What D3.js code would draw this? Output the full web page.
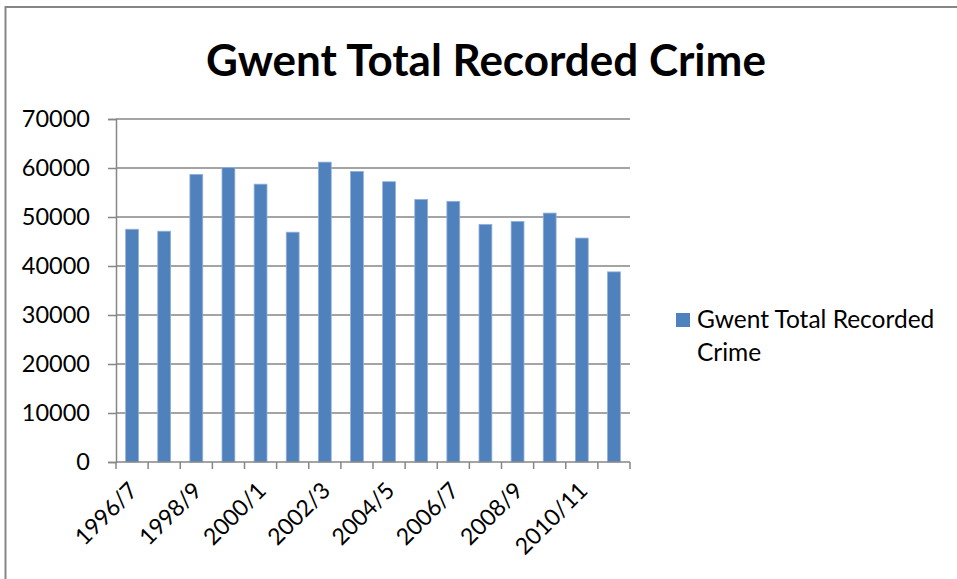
<!DOCTYPE html>
<html>
<head>
<meta charset="utf-8">
<script src="https://cdn.jsdelivr.net/npm/d3@7"></script>
<style>
  html, body { margin: 0; padding: 0; background: #fff; }
  svg { display: block; font-family: Lato, "Open Sans", sans-serif; }
</style>
</head>
<body>
<svg id="chart" width="957" height="579"></svg>
<script>
const categories = ["1996/7","1997/8","1998/9","1999/0","2000/1","2001/2","2002/3","2003/4",
                    "2004/5","2005/6","2006/7","2007/8","2008/9","2009/10","2010/11","2011/12"];
const values = [47500, 47100, 58700, 60100, 56700, 46900, 61200, 59300,
                57200, 53600, 53200, 48500, 49100, 50800, 45700, 38800];
const yTicks = [0, 10000, 20000, 30000, 40000, 50000, 60000, 70000];
const shownLabels = ["1996/7","1998/9","2000/1","2002/3","2004/5","2006/7","2008/9","2010/11"];
const seriesName = "Gwent Total Recorded Crime";
const chartTitle = "Gwent Total Recorded Crime";

(function () {
const svg = d3.select("#chart");
const grey = "#868686";
const barColor = "#4f81bd";

svg.append("rect").attr("x", 0).attr("y", 0).attr("width", 957).attr("height", 579).attr("fill", "#fff");
// chart border
svg.append("rect").attr("x", 5.5).attr("y", 7).attr("width", 1200).attr("height", 1200)
  .attr("fill", "none").attr("stroke", grey).attr("stroke-width", 2);

const pLeft = 116, pRight = 630, pTop = 119, pBottom = 462;
const x = d3.scaleBand().domain(categories).range([pLeft, pRight]).paddingInner(0.6).paddingOuter(0.3);
const y = d3.scaleLinear().domain([0, 70000]).range([pBottom, pTop]);

// title
svg.append("text").attr("x", 486).attr("y", 76).attr("text-anchor", "middle")
  .attr("font-size", 44).attr("font-weight", "bold").attr("fill", "#000").text(chartTitle);

// gridlines
svg.append("g").selectAll("line").data(yTicks.filter(d => d > 0)).join("line")
  .attr("x1", pLeft).attr("x2", pRight).attr("y1", d => y(d)).attr("y2", d => y(d))
  .attr("stroke", grey).attr("stroke-width", 1.5);

// y axis
const yAxis = svg.append("g").attr("transform", `translate(${pLeft},0)`)
  .call(d3.axisLeft(y).tickValues(yTicks).tickSize(8).tickPadding(18).tickFormat(d3.format("d")));
yAxis.select(".domain").attr("stroke", grey).attr("stroke-width", 1.5);
yAxis.selectAll(".tick line").attr("stroke", grey).attr("stroke-width", 1.5);
yAxis.selectAll(".tick text").attr("font-size", 23.5).attr("font-family", "Lato, sans-serif").attr("fill", "#000");

// bars
svg.append("g").selectAll("rect").data(values).join("rect")
  .attr("x", (d, i) => x(categories[i])).attr("width", x.bandwidth())
  .attr("y", d => y(d)).attr("height", d => pBottom - y(d))
  .attr("fill", barColor).attr("stroke", "#93b1d8").attr("stroke-width", 0.8);

// x axis line and ticks at band boundaries
const step = x.step();
const boundaries = d3.range(categories.length + 1).map(i => pLeft + i * step);
const xg = svg.append("g");
xg.append("line").attr("x1", pLeft).attr("x2", pRight).attr("y1", pBottom).attr("y2", pBottom)
  .attr("stroke", grey).attr("stroke-width", 1.5);
xg.selectAll("line.tk").data(boundaries).join("line").attr("class", "tk")
  .attr("x1", d => d).attr("x2", d => d).attr("y1", pBottom).attr("y2", pBottom + 7)
  .attr("stroke", grey).attr("stroke-width", 1.5);

// x labels
xg.selectAll("text").data(shownLabels).join("text")
  .attr("text-anchor", "end").attr("font-size", 23).attr("fill", "#000")
  .attr("transform", d => `translate(${x(d) + x.bandwidth() / 2 + 7},${pBottom + 30}) rotate(-45)`)
  .text(d => d);

// legend
const lg = svg.append("g");
lg.append("rect").attr("x", 676).attr("y", 313).attr("width", 14).attr("height", 14).attr("fill", barColor);
lg.append("text").attr("x", 697).attr("y", 328).attr("font-size", 24.5).attr("fill", "#000")
  .text(seriesName.split(" ").slice(0, 3).join(" "));
lg.append("text").attr("x", 697).attr("y", 361).attr("font-size", 24.5).attr("fill", "#000")
  .text(seriesName.split(" ").slice(3).join(" "));
})();
</script>
</body>
</html>
